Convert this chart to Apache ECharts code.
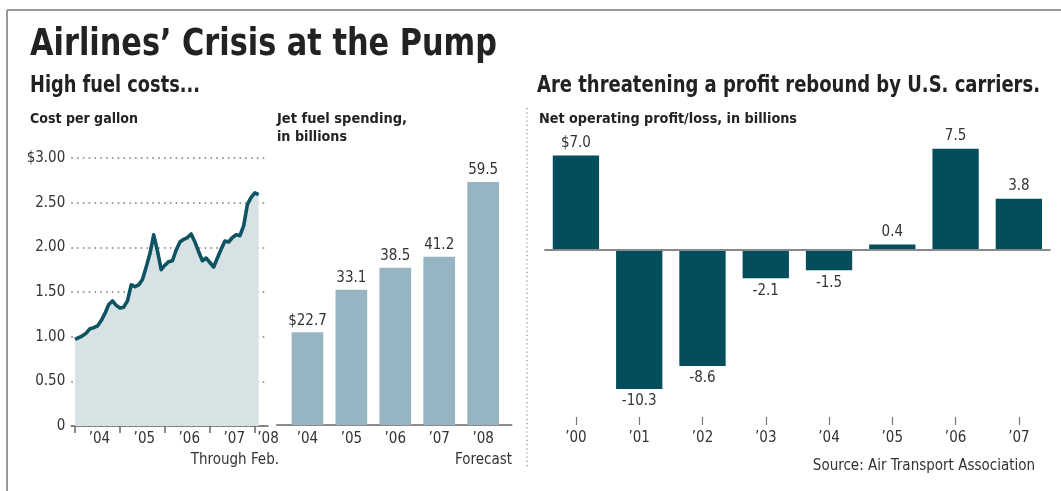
<!DOCTYPE html>
<html>
<head>
<meta charset="utf-8">
<script src="https://cdn.jsdelivr.net/npm/echarts@6/dist/echarts.min.js"></script>
<style>
html,body{margin:0;padding:0;background:#fff;}
#c{width:1061px;height:491px;}
</style>
</head>
<body>
<div id="c"></div>
<script>
// ---- Data ----
// Jet fuel cost per gallon, monthly Jan 2004 .. Feb 2008
const fuelCost = [0.97,0.99,1.01,1.04,1.09,1.10,1.12,1.18,1.26,1.36,1.40,1.35,
                  1.32,1.33,1.40,1.58,1.56,1.58,1.64,1.78,1.93,2.14,1.96,1.75,
                  1.80,1.84,1.85,1.97,2.06,2.09,2.11,2.15,2.06,1.95,1.85,1.88,
                  1.83,1.78,1.88,1.98,2.07,2.06,2.11,2.14,2.13,2.24,2.48,2.56,
                  2.61,2.59];
const costYearLabels = ['\u201904','\u201905','\u201906','\u201907','\u201908'];
const costTickLabels = ['$3.00','2.50','2.00','1.50','1.00','0.50','0'];

const spendCategories = ['\u201904','\u201905','\u201906','\u201907','\u201908'];
const spendValues = [22.7, 33.1, 38.5, 41.2, 59.5];

const profitCategories = ['\u201900','\u201901','\u201902','\u201903','\u201904','\u201905','\u201906','\u201907'];
const profitValues = [7.0, -10.3, -8.6, -2.1, -1.5, 0.4, 7.5, 3.8];

// ---- Styles ----
const FONT = '"DejaVu Sans Condensed","Liberation Sans Narrow",sans-serif';
const TXT = '#333';
const costLinePts = fuelCost.map((v, i) => [i, v]);
const yearLabelPos = [6.5, 18.5, 30.5, 42.5, 51.5];
const spendPts = spendValues.map((v, i) => [i, v]);

const measureCtx = document.createElement('canvas').getContext('2d');
function gtext(text, x, y, size, weight, align, color, targetWidth) {
  const font = (weight || 'normal') + ' ' + size + 'px ' + FONT;
  let sx = 1;
  if (targetWidth) {
    measureCtx.font = font;
    const w = measureCtx.measureText(text).width;
    if (w > 0) sx = targetWidth / w;
  }
  return {
    type: 'text', x: x, y: y, scaleX: sx, silent: true,
    style: {
      text: text, fill: color || TXT, font: font,
      align: align || 'left', verticalAlign: 'middle',
      textAlign: align || 'left', textVerticalAlign: 'middle'
    }
  };
}

const chart = echarts.init(document.getElementById('c'), null, {renderer: 'canvas'});
const option = {
  backgroundColor: '#fff',
  animation: false,
  grid: [
    {left: 71.25, top: 158, width: 196.75, height: 268},
    {left: 276.7, top: 158, width: 235, height: 267},
    {left: 544.3, top: 142, width: 506.2, height: 275}
  ],
  xAxis: [
    {
      type: 'value', gridIndex: 0, min: -1, max: 51.5,
      axisLine: {show: true, lineStyle: {color: '#666', width: 1.5}},
      axisTick: {show: true, customValues: [0, 12, 24, 36, 48], length: 7, lineStyle: {color: '#666', width: 1.5}},
      axisLabel: {
        show: true, customValues: yearLabelPos, margin: 6,
        fontFamily: FONT, fontSize: 15, color: TXT,
        formatter: function (v) {
          const k = yearLabelPos.indexOf(v);
          return k >= 0 ? costYearLabels[k] : '';
        }
      },
      splitLine: {show: false}
    },
    {
      type: 'value', gridIndex: 1, min: -0.70, max: 4.65,
      axisLine: {show: true, lineStyle: {color: '#666', width: 1.5}},
      axisTick: {show: false},
      axisLabel: {
        show: true, customValues: [0, 1, 2, 3, 4], margin: 7,
        fontFamily: FONT, fontSize: 15, color: TXT,
        formatter: function (v) { return spendCategories[Math.round(v)] || ''; }
      },
      splitLine: {show: false}
    },
    {
      type: 'category', gridIndex: 2, data: profitCategories,
      axisLine: {show: false, onZero: false},
      axisTick: {show: true, alignWithLabel: true, length: 8, lineStyle: {color: '#777', width: 1.2}},
      axisLabel: {margin: 14, fontFamily: FONT, fontSize: 15, color: TXT},
      splitLine: {show: false}
    }
  ],
  yAxis: [
    {
      type: 'value', gridIndex: 0, min: 0, max: 3, interval: 0.5,
      axisLine: {show: false}, axisTick: {show: false},
      axisLabel: {
        margin: 6, fontFamily: FONT, fontSize: 15, color: TXT,
        formatter: function (v) { return costTickLabels[Math.round((3 - v) / 0.5)]; }
      },
      splitLine: {show: true, lineStyle: {color: '#7a7a7a', width: 1.6, type: [1.6, 4.2]}}
    },
    {
      type: 'value', gridIndex: 1, min: 0, max: 65.36, show: false
    },
    {
      type: 'value', gridIndex: 2, min: -12.37, max: 8, show: false
    }
  ],
  series: [
    {
      type: 'line', xAxisIndex: 0, yAxisIndex: 0, data: costLinePts,
      symbol: 'none', smooth: false,
      lineStyle: {color: '#0d5362', width: 3.6, join: 'round'},
      areaStyle: {color: '#d6e2e4', opacity: 1},
      z: 3
    },
    {
      type: 'bar', xAxisIndex: 1, yAxisIndex: 1, data: spendPts,
      barWidth: 31.7,
      itemStyle: {color: '#97b4c2'},
      label: {
        show: true, position: 'top', distance: 4,
        fontFamily: FONT, fontSize: 15, color: TXT,
        formatter: function (p) { return (p.dataIndex === 0 ? '$' : '') + p.value[1].toFixed(1); }
      }
    },
    {
      type: 'bar', xAxisIndex: 2, yAxisIndex: 2, data: profitValues,
      barWidth: 46.3,
      itemStyle: {color: '#044d5c'},
      label: {
        show: true, position: 'outside', distance: 5,
        fontFamily: FONT, fontSize: 15, color: TXT,
        formatter: function (p) { return (p.dataIndex === 0 ? '$' : '') + p.value.toFixed(1); }
      },
      markLine: {
        silent: true, symbol: 'none', label: {show: false},
        lineStyle: {color: '#888', width: 2, type: 'solid'},
        data: [{yAxis: 0}]
      },
      z: 3
    }
  ],
  graphic: [
    {type: 'line', silent: true, shape: {x1: 7, y1: 10, x2: 1061, y2: 10}, style: {stroke: '#9a9a9a', lineWidth: 2}},
    {type: 'line', silent: true, shape: {x1: 7, y1: 10, x2: 7, y2: 491}, style: {stroke: '#9a9a9a', lineWidth: 2}},
    {type: 'line', silent: true, shape: {x1: 527, y1: 108, x2: 527, y2: 467}, style: {stroke: '#888', lineWidth: 1.2, lineDash: [1.2, 3]}},
    gtext('Airlines\u2019 Crisis at the Pump', 30, 45, 37, 'bold', 'left', '#222', 467),
    gtext('High fuel costs...', 30, 86, 23, 'bold', 'left', '#222', 170),
    gtext('Are threatening a profit rebound by U.S. carriers.', 537, 86, 23, 'bold', 'left', '#222', 503),
    gtext('Cost per gallon', 30, 119, 14, 'bold', 'left', '#222', 108),
    gtext('Jet fuel spending,', 277, 119, 14, 'bold', 'left', '#222', 130),
    gtext('in billions', 277, 137, 14, 'bold', 'left', '#222', 70),
    gtext('Net operating profit/loss, in billions', 539, 119, 14, 'bold', 'left', '#222', 258),
    gtext('Through Feb.', 279, 460, 15, 'normal', 'right'),
    gtext('Forecast', 512, 460, 15, 'normal', 'right'),
    gtext('Source: Air Transport Association', 1035, 466, 15, 'normal', 'right')
  ]
};
chart.setOption(option);
</script>
</body>
</html>
